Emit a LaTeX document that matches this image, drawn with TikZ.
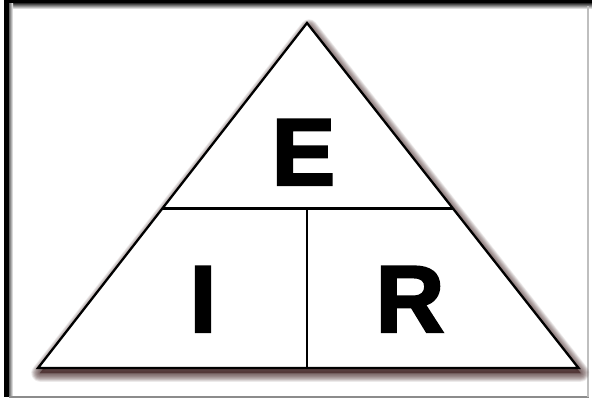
\documentclass[tikz,border=0pt]{standalone}
\usepackage{fontspec}
\setmainfont{Liberation Sans}
\newfontfamily\heavyfont[FakeBold=2.5]{Liberation Sans Bold}
\usetikzlibrary{calc}
\definecolor{shadowcol}{RGB}{70,40,40}
\tikzset{
  edge/.style={draw=black, line width=2.3pt, line join=miter},
  letter/.style={anchor=base, inner sep=0pt, font=\fontsize{95}{95}\selectfont\heavyfont},
}
\begin{document}
\begin{tikzpicture}[x=1pt,y=-1pt]
\useasboundingbox (0,0) rectangle (592,401);
\fill[white] (0,0) rectangle (592,401);
% frame
\fill[black] (4,0) rectangle (592,4);
\shade[top color=black!70, bottom color=white] (9,4) rectangle (592,9);
\fill[black] (4,0) rectangle (9,397);
\shade[left color=black!60, right color=white] (9,4) rectangle (13,396);
\fill[black!45] (9,396) rectangle (589,398);
\fill[black!25] (587,6) rectangle (589,397);
% coordinates
\coordinate (A) at (307,23);
\coordinate (L) at (38,368);
\coordinate (Rt) at (578.5,368);
\coordinate (ML) at ($(L)!0.4625!(A)$);
\coordinate (MR) at ($(Rt)!0.4625!(A)$);
\coordinate (MM) at (307,208);
\coordinate (B) at (307,368);
% shadow
\foreach \k in {16,15,...,1}{
  \filldraw[shadowcol, fill opacity=0.07, draw opacity=0.07, line width=\k*1.1pt, line join=round]
    ([shift={(2,5)}]A) -- ([shift={(2,5)}]L) -- ([shift={(2,5)}]Rt) -- cycle;
}
% triangle
\fill[white] (A) -- (L) -- (Rt) -- cycle;
\draw[edge] (A) -- (L) -- (Rt) -- cycle;
\draw[edge] (ML) -- (MR);
\draw[edge] (MM) -- (B);
% letters
\node[letter] (E) at (303.5,185) {E};
\node[letter] (I) at (203,332) {I};
\node[letter] (R) at (410,332) {R};
\end{tikzpicture}
\end{document}
